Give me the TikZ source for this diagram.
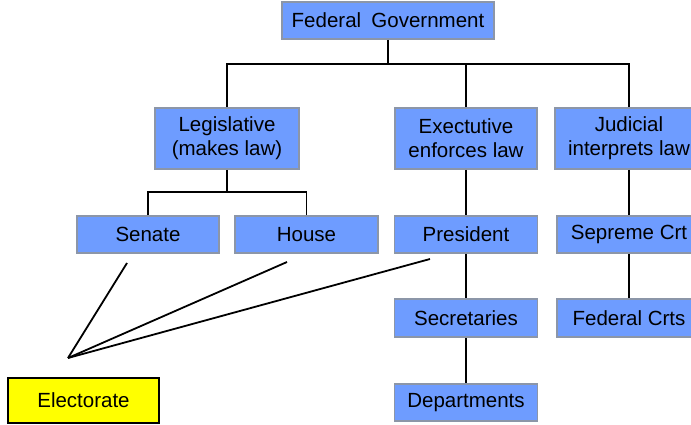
\documentclass[tikz,border=0pt]{standalone}
\usepackage{fontspec}
\setmainfont{Liberation Sans}
\definecolor{boxblue}{RGB}{110,156,255}
\definecolor{boxedge}{RGB}{140,150,168}
\definecolor{elecyellow}{RGB}{255,255,0}
\begin{document}
\begin{tikzpicture}[x=1pt,y=-1pt,
  orgbox/.style={draw=boxedge,line width=1.8pt,fill=boxblue,inner sep=0pt,align=center,
    font=\fontsize{20.5}{24}\selectfont},
  link/.style={line width=1.4pt,black},
  vote/.style={line width=1.8pt,black}]
\useasboundingbox (0,0) rectangle (691,425);
\clip (0,0) rectangle (691,425);
\node[orgbox,minimum width=212pt,minimum height=37pt] (fed) at (388,20.5) {Federal\hspace{0.5em}Government};
\node[orgbox,minimum width=144pt,minimum height=61pt] (leg) at (227,138.5) {Legislative\\(makes law)};
\node[orgbox,minimum width=142pt,minimum height=61pt] (exe) at (466,138.5) {Exectutive\\enforces law};
\node[orgbox,minimum width=148pt,minimum height=61pt] (jud) at (629,138.5) {Judicial\\interprets law};
\node[orgbox,minimum width=142pt,minimum height=37pt] (sen) at (148,234.5) {Senate};
\node[orgbox,minimum width=143pt,minimum height=37pt] (hou) at (306.5,234.5) {House};
\node[orgbox,minimum width=143pt,minimum height=37pt] (pres) at (466,234.5) {President};
\node[orgbox,minimum width=143pt,minimum height=38pt] (sec) at (466,318) {Secretaries};
\node[orgbox,minimum width=143pt,minimum height=37pt] (dep) at (466,402.5) {Departments};
\node[orgbox,minimum width=144pt,minimum height=37pt] (sup) at (629,234.5) {Sepreme Crt};
\node[orgbox,minimum width=144pt,minimum height=38pt] (fcrt) at (629,318) {Federal Crts};
\node[draw=black,line width=1.3pt,fill=elecyellow,inner sep=0pt,minimum width=151pt,minimum height=45pt,
  font=\fontsize{20.5}{24}\selectfont] (elec) at (83.5,400.5) {Electorate};
% top bus
\coordinate (bus1) at (388,64);
\draw[link] (fed.south) -- (bus1);
\draw[link] (leg.north) |- (bus1);
\draw[link] (jud.north) |- (bus1);
\draw[link] (exe.north) -- (exe.north |- bus1);
% legislative bus
\coordinate (bus2) at (227,192);
\draw[link] (leg.south) -- (bus2);
\draw[link] (sen.north) |- (bus2);
\draw[link] (hou.north) |- (bus2);
% executive chain
\draw[link] (exe.south) -- (pres.north);
\draw[link] (pres.south) -- (sec.north);
\draw[link] (sec.south) -- (dep.north);
% judicial chain
\draw[link] (jud.south) -- (sup.north);
\draw[link] (sup.south) -- (fcrt.north);
% electorate lines
\coordinate (ev) at (68,358);
\coordinate (s1) at (127,263);
\coordinate (h1) at (287,262);
\coordinate (p1) at (430,259);
\draw[vote] (ev) -- (s1);
\draw[vote] (ev) -- (h1);
\draw[vote] (ev) -- (p1);
\end{tikzpicture}
\end{document}
